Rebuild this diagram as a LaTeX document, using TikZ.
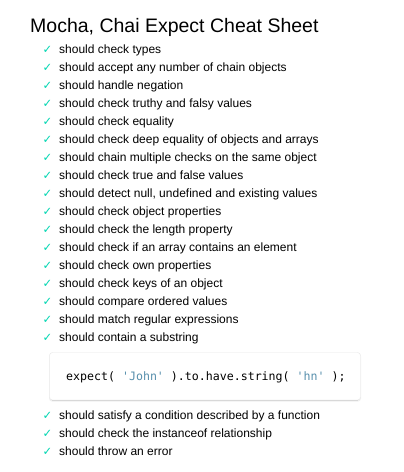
\documentclass[tikz,border=0pt]{standalone}
\usepackage{fontspec}
\setmainfont{Liberation Sans}
\newfontfamily\checkfont{DejaVu Sans}
\newfontfamily\codefont{DejaVu Sans Mono}
\definecolor{passgreen}{HTML}{00D6B2}
\definecolor{codestring}{HTML}{5890AD}
\definecolor{boxborder}{HTML}{E6E6E6}
\definecolor{boxbottom}{HTML}{D8D8D8}
\definecolor{boxshadow}{HTML}{F0F0F0}
\begin{document}
\begin{tikzpicture}[x=1pt,y=-1pt,
  titletext/.style={anchor=base west,inner sep=0pt,font=\fontsize{19.5}{22}\selectfont},
  itemtext/.style={anchor=base west,inner sep=0pt,font=\fontsize{12}{14}\selectfont},
  checkmark/.style={anchor=base west,inner sep=0pt,text=passgreen,font=\checkfont\bfseries\fontsize{11.5}{13}\selectfont},
  codetext/.style={anchor=base west,inner sep=0pt,font=\codefont\fontsize{11.6}{14}\selectfont}]
\useasboundingbox (0,0) rectangle (404,472);
\fill[white] (0,0) rectangle (404,472);
\node[titletext] (title) at (30,32) {Mocha, Chai Expect Cheat Sheet};
\foreach \t [count=\i] in {
  should check types,
  should accept any number of chain objects,
  should handle negation,
  should check truthy and falsy values,
  should check equality,
  should check deep equality of objects and arrays,
  should chain multiple checks on the same object,
  should check true and false values,
  {should detect null, undefined and existing values},
  should check object properties,
  should check the length property,
  should check if an array contains an element,
  should check own properties,
  should check keys of an object,
  should compare ordered values,
  should match regular expressions,
  should contain a substring}{
  \node[checkmark] (c\i) at (42.5,{53.5+18*(\i-1)}) {✓};
  \node[itemtext] (t\i) at (59,{53+18*(\i-1)}) {\t};
}
% code box
\fill[boxshadow,rounded corners=3pt] (49,353.5) rectangle (361,401.5);
\draw[boxborder,fill=white,rounded corners=3pt] (49.5,352.5) rectangle (360.5,400);
\draw[boxbottom] (52,400) -- (358,400);
\node[codetext] (code) at (66,380) {expect( \textcolor{codestring}{'John'} ).to.have.string( \textcolor{codestring}{'hn'} );};
\foreach \t [count=\i from 18] in {
  should satisfy a condition described by a function,
  should check the instanceof relationship,
  should throw an error}{
  \node[checkmark] (c\i) at (42.5,{419.5+18*(\i-18)}) {✓};
  \node[itemtext] (t\i) at (59,{419+18*(\i-18)}) {\t};
}
\end{tikzpicture}
\end{document}
